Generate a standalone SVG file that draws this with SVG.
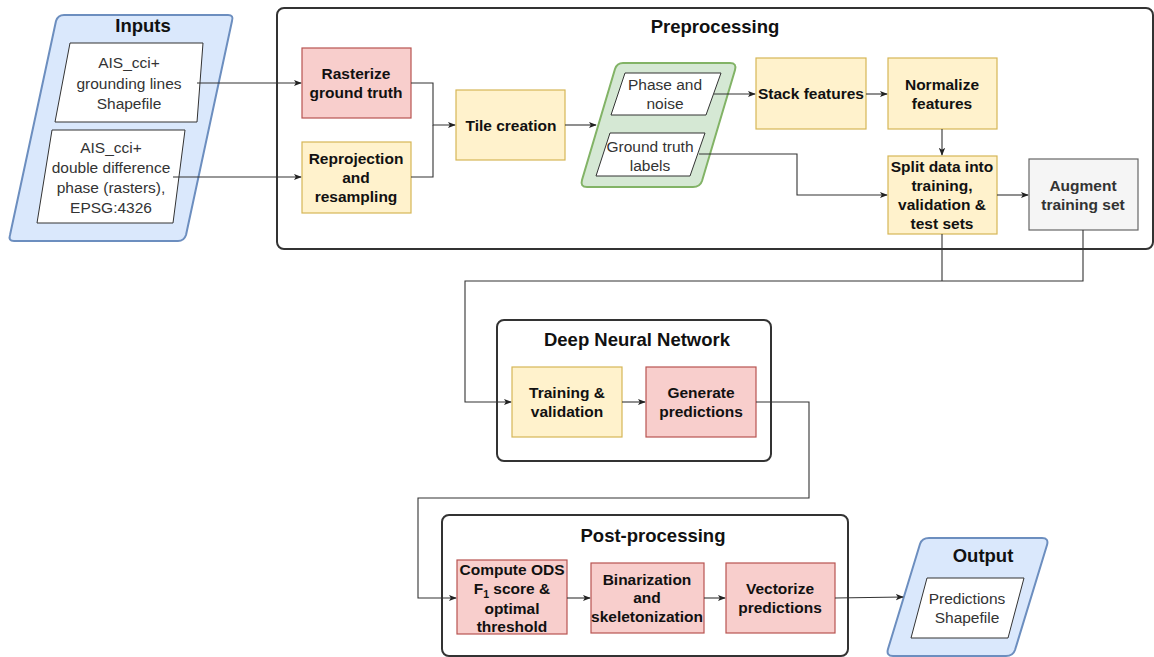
<svg xmlns="http://www.w3.org/2000/svg" width="1154" height="657" viewBox="0 0 1154 657">
  <style>
    text { font-family: "Liberation Sans", Arial, sans-serif; text-anchor: middle; }
    .t { font-size: 15.5px; font-weight: bold; fill: #111; }
    .title { font-size: 18.5px; font-weight: bold; fill: #111; }
    .n { font-size: 15.5px; fill: #333; }
    .yellow { fill: #fff2cc; stroke: #d6b656; stroke-width: 1.2; }
    .red { fill: #f8cecc; stroke: #b85450; stroke-width: 1.2; }
    .gray { fill: #f5f5f5; stroke: #666666; stroke-width: 1.2; }
    .cont { fill: #ffffff; stroke: #333333; stroke-width: 2; }
    .blue { fill: #dae8fc; stroke: #6c8ebf; stroke-width: 2; stroke-linejoin: round; }
    .green { fill: #d5e8d4; stroke: #82b366; stroke-width: 2; stroke-linejoin: round; }
    .white { fill: #ffffff; stroke: #333333; stroke-width: 1; }
    .edge { fill: none; stroke: #333333; stroke-width: 1.1; }
  </style>
  <defs>
    <marker id="arrow" viewBox="0 0 10 10" refX="9" refY="5" markerWidth="8" markerHeight="8" markerUnits="userSpaceOnUse" orient="auto">
      <path d="M0,1 L10,5 L0,9 L2.5,5 Z" fill="#222"/>
    </marker>
  </defs>

  <rect width="1154" height="657" fill="#ffffff"/>

  <!-- containers -->
  <g id="preprocessing">
    <rect class="cont" x="277" y="8" width="876" height="241" rx="7"/>
    <text class="title" x="715" y="33">Preprocessing</text>
  </g>
  <g id="dnn">
    <rect class="cont" x="497" y="320" width="274" height="141" rx="7"/>
    <text class="title" x="637" y="346">Deep Neural Network</text>
  </g>
  <g id="postprocessing">
    <rect class="cont" x="442" y="515" width="406" height="141" rx="7"/>
    <text class="title" x="653" y="542">Post-processing</text>
  </g>

  <!-- inputs -->
  <g id="inputs">
    <path class="blue" d="M64,15 L228,15 Q234,15 232,21 L186,235 Q184,241 178,241 L14,241 Q8,241 10,235 L56,21 Q58,15 64,15 Z"/>
    <text class="title" x="143" y="32">Inputs</text>
    <polygon class="white" points="70,43 203,43 197,122 55,122"/>
    <text class="n" x="129" y="68">AIS_cci+</text>
    <text class="n" x="129" y="89">grounding lines</text>
    <text class="n" x="129" y="109">Shapefile</text>
    <polygon class="white" points="52,130 185,130 173,223 37,223"/>
    <text class="n" x="111" y="153">AIS_cci+</text>
    <text class="n" x="111" y="173">double difference</text>
    <text class="n" x="111" y="193">phase (rasters),</text>
    <text class="n" x="111" y="213">EPSG:4326</text>
  </g>

  <g id="rasterize">
    <rect class="red" x="302" y="48" width="109" height="70"/>
    <text class="t" x="356" y="79">Rasterize</text>
    <text class="t" x="356" y="98">ground truth</text>
  </g>
  <g id="reprojection">
    <rect class="yellow" x="302" y="142" width="109" height="71"/>
    <text class="t" x="356" y="164">Reprojection</text>
    <text class="t" x="356" y="183">and</text>
    <text class="t" x="356" y="202">resampling</text>
  </g>
  <g id="tile-creation">
    <rect class="yellow" x="456" y="90" width="109" height="70"/>
    <text class="t" x="511" y="131">Tile creation</text>
  </g>

  <g id="tiles">
    <path class="green" d="M623,63 L730,63 Q737,63 735,70 L702,181 Q700,187 693,187 L587,187 Q580,187 582,180 L615,69 Q617,63 623,63 Z"/>
    <polygon class="white" points="625,73 721,73 706,115 611,115"/>
    <text class="n" x="665" y="90">Phase and</text>
    <text class="n" x="665" y="109">noise</text>
    <polygon class="white" points="610,133 705,133 690,176 596,176"/>
    <text class="n" x="650" y="152">Ground truth</text>
    <text class="n" x="650" y="171">labels</text>
  </g>

  <g id="stack-features">
    <rect class="yellow" x="756" y="58" width="110" height="71"/>
    <text class="t" x="811" y="99">Stack features</text>
  </g>
  <g id="normalize-features">
    <rect class="yellow" x="888" y="58" width="109" height="71"/>
    <text class="t" x="942" y="90">Normalize</text>
    <text class="t" x="942" y="109">features</text>
  </g>
  <g id="split-data">
    <rect class="yellow" x="888" y="156" width="109" height="78"/>
    <text class="t" x="942" y="172">Split data into</text>
    <text class="t" x="942" y="191">training,</text>
    <text class="t" x="942" y="210">validation &amp;</text>
    <text class="t" x="942" y="229">test sets</text>
  </g>
  <g id="augment">
    <rect class="gray" x="1029" y="159" width="109" height="71"/>
    <text class="t" x="1083" y="191" style="fill:#333">Augment</text>
    <text class="t" x="1083" y="210" style="fill:#333">training set</text>
  </g>

  <g id="training">
    <rect class="yellow" x="512" y="367" width="110" height="70"/>
    <text class="t" x="567" y="398">Training &amp;</text>
    <text class="t" x="567" y="417">validation</text>
  </g>
  <g id="generate-predictions">
    <rect class="red" x="646" y="367" width="110" height="70"/>
    <text class="t" x="701" y="398">Generate</text>
    <text class="t" x="701" y="417">predictions</text>
  </g>

  <g id="compute-ods">
    <rect class="red" x="457" y="560" width="110" height="74"/>
    <text class="t" x="512" y="575">Compute ODS</text>
    <text class="t" x="512" y="594">F<tspan font-size="10.5" dy="4">1</tspan><tspan dy="-4"> score &amp;</tspan></text>
    <text class="t" x="512" y="614">optimal</text>
    <text class="t" x="512" y="632">threshold</text>
  </g>
  <g id="binarization">
    <rect class="red" x="591" y="563" width="113" height="70"/>
    <text class="t" x="647" y="585">Binarization</text>
    <text class="t" x="647" y="603">and</text>
    <text class="t" x="647" y="622">skeletonization</text>
  </g>
  <g id="vectorize">
    <rect class="red" x="726" y="563" width="109" height="70"/>
    <text class="t" x="780" y="594">Vectorize</text>
    <text class="t" x="780" y="613">predictions</text>
  </g>

  <g id="output">
    <path class="blue" d="M929,538 L1042,538 Q1049,538 1047,545 L1015,650 Q1013,656 1006,656 L893,656 Q886,656 888,649 L920,544 Q922,538 929,538 Z"/>
    <text class="title" x="983" y="562">Output</text>
    <polygon class="white" points="927,578 1024,578 1008,638 911,638"/>
    <text class="n" x="967" y="604">Predictions</text>
    <text class="n" x="967" y="623">Shapefile</text>
  </g>

  <!-- connectors -->
  <g id="connectors">
    <path class="edge" d="M197,83 H301" marker-end="url(#arrow)"/>
    <path class="edge" d="M173,177 H301" marker-end="url(#arrow)"/>
    <path class="edge" d="M411,83 H433 V125 H455" marker-end="url(#arrow)"/>
    <path class="edge" d="M411,177 H433 V125"/>
    <path class="edge" d="M565,125 H596" marker-end="url(#arrow)"/>
    <path class="edge" d="M714,94 H755" marker-end="url(#arrow)"/>
    <path class="edge" d="M699,154 H797 V195 H887" marker-end="url(#arrow)"/>
    <path class="edge" d="M866,94 H887" marker-end="url(#arrow)"/>
    <path class="edge" d="M942,129 V155" marker-end="url(#arrow)"/>
    <path class="edge" d="M997,195 H1028" marker-end="url(#arrow)"/>
    <path class="edge" d="M942,234 V281"/>
    <path class="edge" d="M1083,230 V281 H465 V402 H511" marker-end="url(#arrow)"/>
    <path class="edge" d="M622,402 H645" marker-end="url(#arrow)"/>
    <path class="edge" d="M756,402 H809 V498 H418 V598 H456" marker-end="url(#arrow)"/>
    <path class="edge" d="M567,598 H590" marker-end="url(#arrow)"/>
    <path class="edge" d="M704,598 H725" marker-end="url(#arrow)"/>
    <path class="edge" d="M835,598 L903,597" marker-end="url(#arrow)"/>
  </g>
</svg>
